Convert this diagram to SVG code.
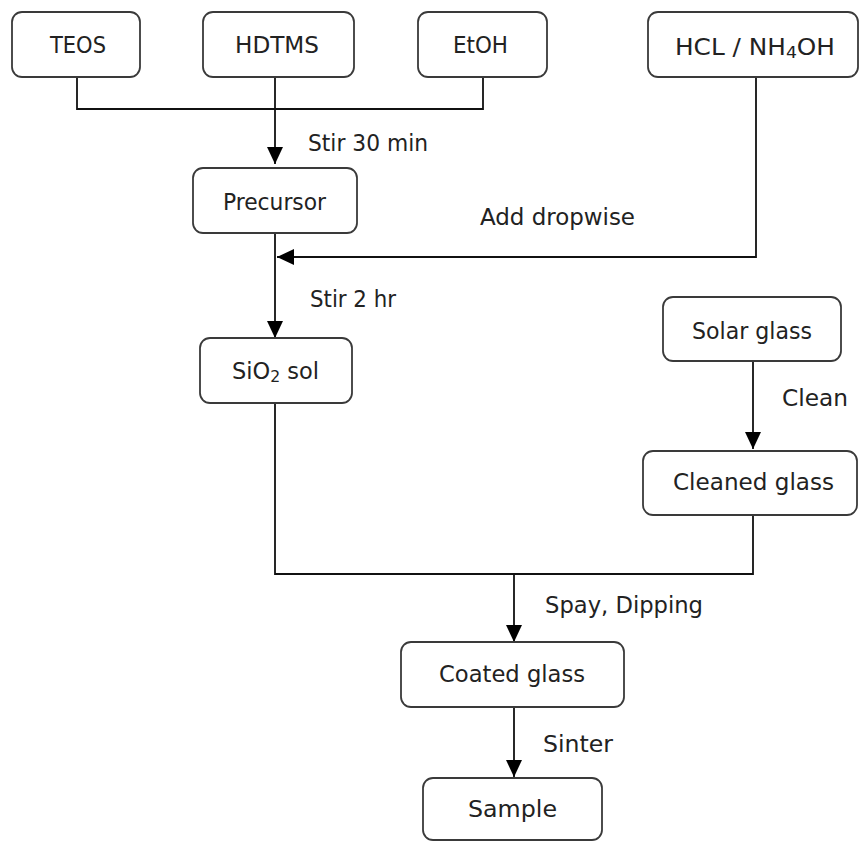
<svg xmlns="http://www.w3.org/2000/svg" width="859" height="841" viewBox="0 0 859 841">
<style>
.box{fill:#fff;stroke:#3a3a3a;stroke-width:1.8}
.t{font-family:"DejaVu Sans Condensed","DejaVu Sans",sans-serif;font-stretch:condensed;font-size:23px;fill:#222}
.c{fill:none;stroke:#111;stroke-width:1.8}
</style>
<defs>
<marker id="ahb" viewBox="0 0 17 16" refX="17" refY="8" markerWidth="17" markerHeight="16" markerUnits="userSpaceOnUse" orient="auto">
<path d="M0,0 L17,8 L0,16 z" fill="#000"/>
</marker>
</defs>
<rect width="859" height="841" fill="#fff"/>
<g id="connectors">
<path class="c" d="M77,77 V109 H483 V77"/>
<path class="c" d="M275,77 V164" marker-end="url(#ahb)"/>
<path class="c" d="M756,77 V257 H277" marker-end="url(#ahb)"/>
<path class="c" d="M275,233 V338" marker-end="url(#ahb)"/>
<path class="c" d="M753,361 V449" marker-end="url(#ahb)"/>
<path class="c" d="M275,403 V574 H753 V515"/>
<path class="c" d="M514,574 V642" marker-end="url(#ahb)"/>
<path class="c" d="M514,707 V777" marker-end="url(#ahb)"/>
</g>
<g id="labels">
<text class="t" x="308" y="151" textLength="120" lengthAdjust="spacingAndGlyphs">Stir 30 min</text>
<text class="t" x="480" y="225" textLength="155" lengthAdjust="spacingAndGlyphs">Add dropwise</text>
<text class="t" x="310" y="307" textLength="86" lengthAdjust="spacingAndGlyphs">Stir 2 hr</text>
<text class="t" x="782" y="406" textLength="66" lengthAdjust="spacingAndGlyphs">Clean</text>
<text class="t" x="545" y="613" textLength="158" lengthAdjust="spacingAndGlyphs">Spay, Dipping</text>
<text class="t" x="543" y="752" textLength="70" lengthAdjust="spacingAndGlyphs">Sinter</text>
</g>
<g id="n-teos"><rect class="box" x="12" y="12" width="128" height="65" rx="10"/><text class="t" x="50" y="53" textLength="56" lengthAdjust="spacingAndGlyphs">TEOS</text></g>
<g id="n-hdtms"><rect class="box" x="203" y="12" width="151" height="65" rx="10"/><text class="t" x="235" y="53" textLength="84" lengthAdjust="spacingAndGlyphs">HDTMS</text></g>
<g id="n-etoh"><rect class="box" x="418" y="12" width="129" height="65" rx="10"/><text class="t" x="453" y="53" textLength="55" lengthAdjust="spacingAndGlyphs">EtOH</text></g>
<g id="n-hcl"><rect class="box" x="648" y="12" width="210" height="65" rx="10"/><text class="t" x="675" y="55" textLength="160" lengthAdjust="spacingAndGlyphs">HCL / NH<tspan font-size="16" dy="3">4</tspan><tspan dy="-3">OH</tspan></text></g>
<g id="n-precursor"><rect class="box" x="193" y="168" width="164" height="65" rx="10"/><text class="t" x="223" y="210" textLength="103" lengthAdjust="spacingAndGlyphs">Precursor</text></g>
<g id="n-sio2"><rect class="box" x="200" y="338" width="152" height="65" rx="10"/><text class="t" x="232" y="379" textLength="87" lengthAdjust="spacingAndGlyphs">SiO<tspan font-size="16" dy="3">2</tspan><tspan dy="-3"> sol</tspan></text></g>
<g id="n-solar"><rect class="box" x="663" y="297" width="178" height="64" rx="10"/><text class="t" x="692" y="339" textLength="120" lengthAdjust="spacingAndGlyphs">Solar glass</text></g>
<g id="n-cleaned"><rect class="box" x="643" y="451" width="214" height="64" rx="10"/><text class="t" x="673" y="490" textLength="161" lengthAdjust="spacingAndGlyphs">Cleaned glass</text></g>
<g id="n-coated"><rect class="box" x="401" y="642" width="223" height="65" rx="10"/><text class="t" x="439" y="682" textLength="146" lengthAdjust="spacingAndGlyphs">Coated glass</text></g>
<g id="n-sample"><rect class="box" x="423" y="778" width="179" height="62" rx="10"/><text class="t" x="468" y="817" textLength="89" lengthAdjust="spacingAndGlyphs">Sample</text></g>
</svg>
